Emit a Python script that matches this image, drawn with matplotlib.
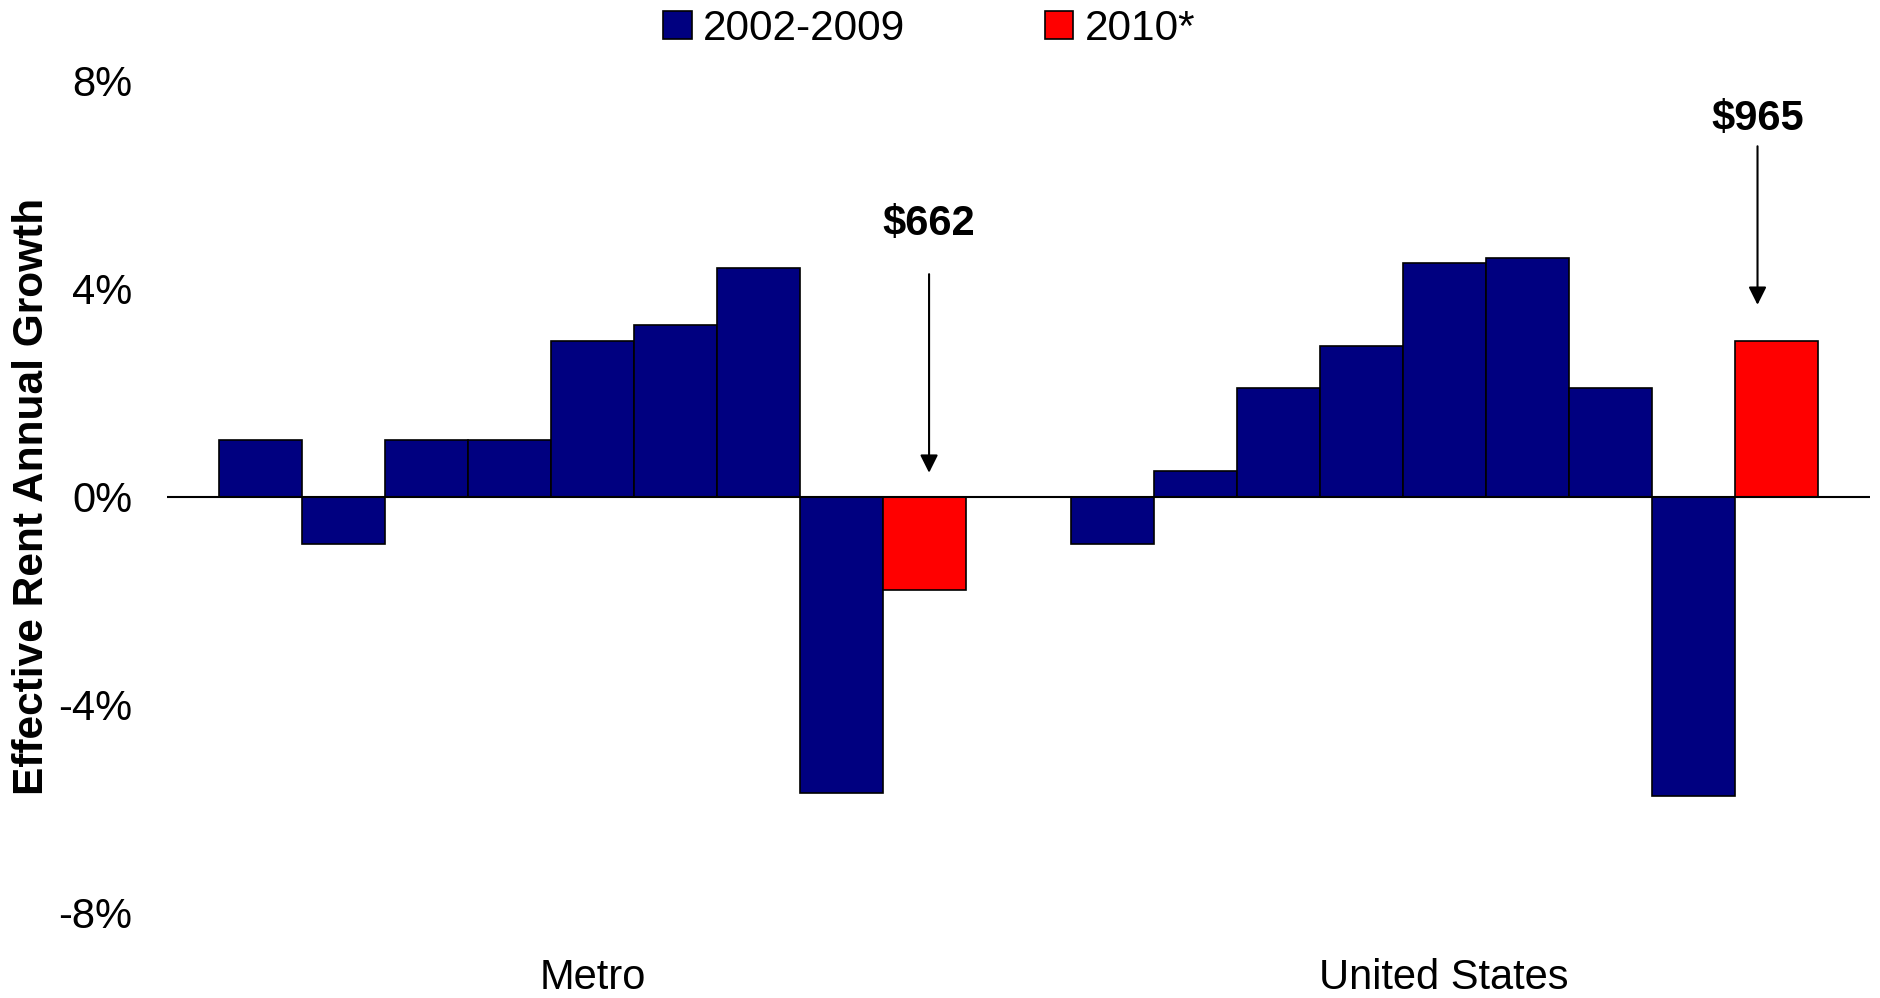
import matplotlib
matplotlib.use('Agg')
import matplotlib.pyplot as plt
from matplotlib.patches import Patch

plt.rcParams['font.family'] = ['Liberation Sans', 'DejaVu Sans']

# Effective rent annual growth (%), 2002-2009 then 2010*
categories = ['Metro', 'United States']
metro_2002_2009 = [1.1, -0.9, 1.1, 1.1, 3.0, 3.3, 4.4, -5.7]
us_2002_2009 = [-0.9, 0.5, 2.1, 2.9, 4.5, 4.6, 2.1, -5.75]
growth_2010 = [-1.8, 3.0]
rent_2010 = ['\\$662', '\\$965']

# callout placement (data units): x, text y, arrow start, arrow tip
callout_x = [0.395, 1.368]
callout_text_y = [5.24, 7.26]
callout_start = [4.28, 6.74]
callout_tip = [0.46, 3.69]

yticks = [-8, -4, 0, 4, 8]
ytick_labels = ['-8%', '-4%', '0%', '4%', '8%']

navy = '#000080'
red = '#FF0000'
w = 0.0975

fig = plt.figure(figsize=(18.81, 9.98), dpi=100)
ax = fig.add_axes([0.0888, 0.0855, 0.9053, 0.8336])

for i, hist in enumerate([metro_2002_2009, us_2002_2009]):
    xs = [i + (j - 4) * w for j in range(len(hist))]
    ax.bar(xs, hist, width=w, color=navy, edgecolor='black', linewidth=1.2, zorder=2)
    ax.bar(i + 4 * w, growth_2010[i], width=w, color=red, edgecolor='black', linewidth=1.2, zorder=2)

ax.axhline(0, color='black', linewidth=1.5, zorder=3)

for i in range(len(categories)):
    ax.text(callout_x[i], callout_text_y[i], rent_2010[i], ha='center', va='center',
            fontsize=30, fontweight='bold')
    ax.annotate('', xy=(callout_x[i], callout_tip[i]), xytext=(callout_x[i], callout_start[i]),
                arrowprops=dict(arrowstyle='-|>', color='black', lw=1.5,
                                mutation_scale=27, shrinkA=0, shrinkB=0))
    ax.text(i, -0.092, categories[i], transform=ax.get_xaxis_transform(),
            ha='center', va='baseline', fontsize=30)

ax.set_xlim(-0.5, 1.5)
ax.set_ylim(-8, 8)
ax.set_yticks(yticks)
ax.set_yticklabels(ytick_labels, fontsize=30)
ax.set_xticks([])
ax.tick_params(axis='y', length=0, pad=25)
for s in ax.spines.values():
    s.set_visible(False)

fig.text(0.017, 0.503, 'Effective Rent Annual Growth', rotation=90, ha='center', va='center',
         fontsize=30.5, fontweight='bold')

handles = [Patch(facecolor=navy, edgecolor='black', linewidth=1.2),
           Patch(facecolor=red, edgecolor='black', linewidth=1.2)]
fig.legend(handles, ['2002-2009', '2010*'], loc='center', bbox_to_anchor=(0.494, 0.971),
           ncol=2, frameon=False, fontsize=30.5, handlelength=0.67, handleheight=0.66,
           handletextpad=0.27, columnspacing=3.3, borderpad=0, borderaxespad=0)

fig.savefig('out.png', dpi=100)
